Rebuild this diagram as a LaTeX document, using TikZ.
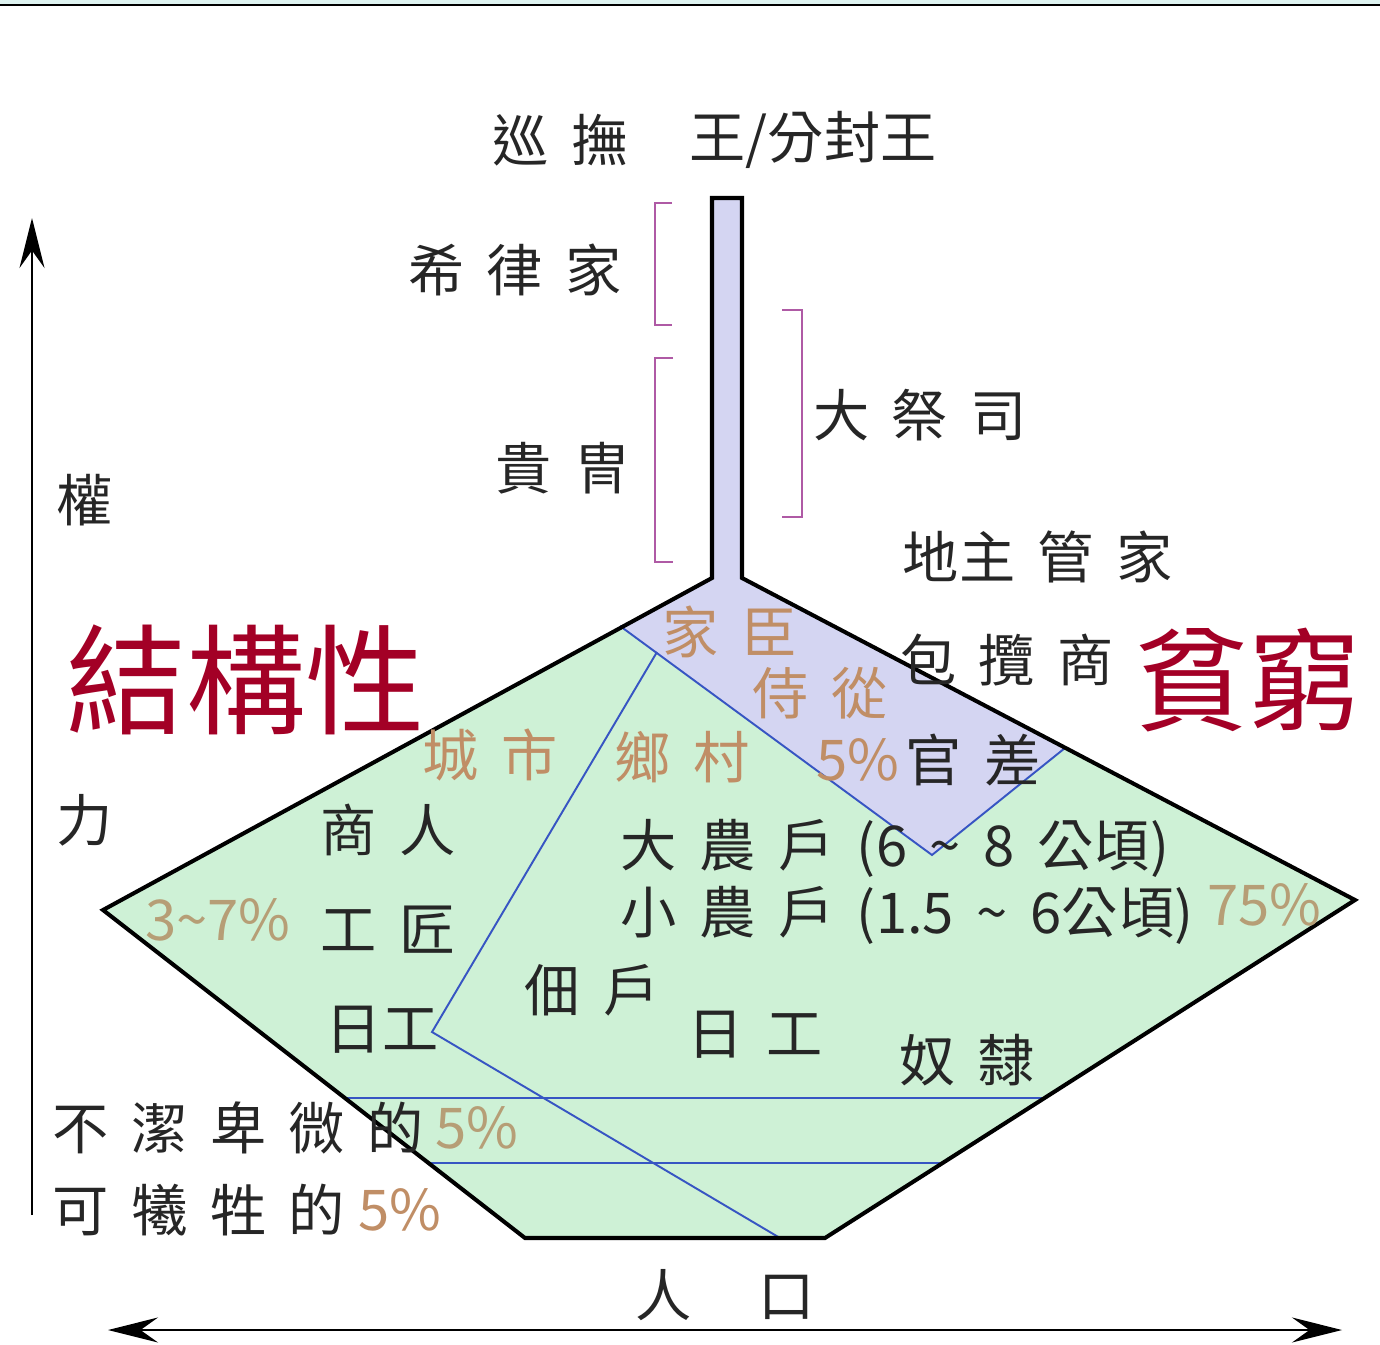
\documentclass[tikz,border=0pt]{standalone}
\usepackage{fontspec}
\setmainfont[WordSpace=1.8]{Noto Sans CJK TC}
\usepackage{xcolor}
\usetikzlibrary{arrows.meta,positioning}

\definecolor{mint}{RGB}{206,241,214}
\definecolor{lav}{RGB}{212,213,242}
\definecolor{divblue}{RGB}{55,85,195}
\definecolor{brk}{RGB}{175,90,165}
\definecolor{tan}{RGB}{192,142,102}
\definecolor{sand}{RGB}{182,158,118}
\definecolor{crimson}{RGB}{163,0,38}
\definecolor{topband}{RGB}{222,243,240}

\begin{document}
\begin{tikzpicture}[
    x=0.02cm, y=-0.02cm,
    lbl/.style={font=\fontsize{32}{38}\selectfont, text=black!85, inner sep=0pt},
    pct/.style={lbl, text=tan},
    pctsand/.style={lbl, text=sand},
    big/.style={font=\fontsize{68}{76}\selectfont, text=crimson, inner sep=0pt},
    outline/.style={line width=2.3pt, line join=miter},
    divider/.style={draw=divblue, line width=1.1pt},
    brace/.style={draw=brk, line width=1pt},
    axis/.style={line width=1.1pt, >={Stealth[length=1cm, width=0.5cm, inset=0.35cm]}}
]
    \useasboundingbox (0,0) rectangle (1380,1345);
    \fill[topband] (0,0) rectangle (1380,5);
    \draw[line width=0.8pt] (0,5) -- (1380,5);

    % Outline corners
    \coordinate (st) at (712,198);
    \coordinate (stR) at (742,198);
    \coordinate (shL) at (712,578);
    \coordinate (shR) at (742,578);
    \coordinate (pL) at (103,910);
    \coordinate (pR) at (1355,900);
    \coordinate (bL) at (525,1238);
    \coordinate (bR) at (825,1238);

    % Court band
    \coordinate (cL) at (620,626);
    \coordinate (cB) at (932,855);
    \coordinate (cR) at (1065,748);

    % City / village split and bottom strata
    \coordinate (dTop) at (657,652);
    \coordinate (dMid) at (432,1032);
    \coordinate (dBot) at (780,1238);
    \coordinate (h1L) at (347,1098);
    \coordinate (h1R) at (1045,1098);
    \coordinate (h2L) at (428,1163);
    \coordinate (h2R) at (943,1163);

    \fill[mint] (st) -- (shL) -- (pL) -- (bL) -- (bR) -- (pR) -- (shR) -- (stR) -- cycle;
    \fill[lav] (st) -- (stR) -- (shR) -- (cR) -- (cB) -- (cL) -- (shL) -- cycle;

    \draw[divider] (cL) -- (cB) -- (cR);
    \draw[divider] (dTop) -- (dMid) -- (dBot);
    \draw[divider] (h1L) -- (h1R);
    \draw[divider] (h2L) -- (h2R);

    \draw[outline] (st) -- (shL) -- (pL) -- (bL) -- (bR) -- (pR) -- (shR) -- (stR) -- cycle;

    % Brackets
    \draw[brace] (672,203) -- (655,203) -- (655,325) -- (672,325);
    \draw[brace] (673,358) -- (655,358) -- (655,562) -- (673,562);
    \draw[brace] (782,310) -- (802,310) -- (802,517) -- (782,517);

    % Axes
    \coordinate (yLow) at (32,1215);
    \coordinate (yTip) at (32,218);
    \coordinate (xLeft) at (108,1330);
    \coordinate (xRight) at (1342,1330);
    \draw[axis, ->] (yLow) -- (yTip);
    \draw[axis, <->] (xLeft) -- (xRight);

    % Top of the pyramid
    \node[lbl] (xunfu) at (560,140) {巡 撫};
    \node[lbl] (wang) at (813,140) {王/分封王};
    \node[lbl] (xilv) at (515,270) {希 律 家};
    \node[lbl] (guizhou) at (563,468) {貴 冑};
    \node[lbl] (daji) at (920,415) {大 祭 司};
    \node[lbl] (guanjia) at (1038,557) {地主 管 家};
    \node[lbl] (baolan) at (1007,660) {包 攬 商};

    % Court band
    \node[pct] (jiachen) at (730,632) {家 臣};
    \node[pct] (shicong) at (820,693) {侍 從};
    \node[pct, anchor=east] (pctG) at (900,760) {5\%};
    \node[lbl, right=3pt of pctG] (guanchai) {官 差};

    % City
    \node[pct] (chengshi) at (490,755) {城 市};
    \node[lbl] (shangren) at (388,830) {商 人};
    \node[pctsand] (pctC) at (218,920) {3\textasciitilde7\%};
    \node[lbl] (gongjiang) at (388,930) {工 匠};
    \node[lbl] (rigongC) at (382,1030) {日工};

    % Village
    \node[pct] (xiangcun) at (682,757) {鄉 村};
    \node[lbl, anchor=west] (danong) at (620,848) {大 農 戶 (6 \textasciitilde{} 8 公頃)};
    \node[lbl, anchor=west] (xiaonong) at (620,915) {小 農 戶 (1.5 \textasciitilde{} 6公頃)};
    \node[pctsand, anchor=west] (pctV) at (1207,905) {75\%};
    \node[lbl] (dianhu) at (592,990) {佃 戶};
    \node[lbl] (rigongV) at (755,1035) {日 工};
    \node[lbl] (nuli) at (967,1060) {奴 隸};

    % Bottom strata
    \node[lbl, anchor=west] (bujie) at (52,1128) {不 潔 卑 微 的};
    \node[pctsand, anchor=west] (pctU) at (435,1128) {5\%};
    \node[lbl, anchor=west] (xisheng) at (52,1210) {可 犧 牲 的};
    \node[pct, anchor=west] (pctS) at (358,1210) {5\%};

    % Axis labels
    \node[lbl] (renkou) at (725,1295) {人\hspace{1.2em}口};
    \node[lbl] (quan) at (85,500) {權};
    \node[lbl] (li) at (85,820) {力};

    % Headline words
    \node[big] (jiegou) at (246,680) {結構性};
    \node[big, font=\fontsize{64}{72}\selectfont] (pinqiong) at (1248,680) {貧窮};
\end{tikzpicture}
\end{document}
